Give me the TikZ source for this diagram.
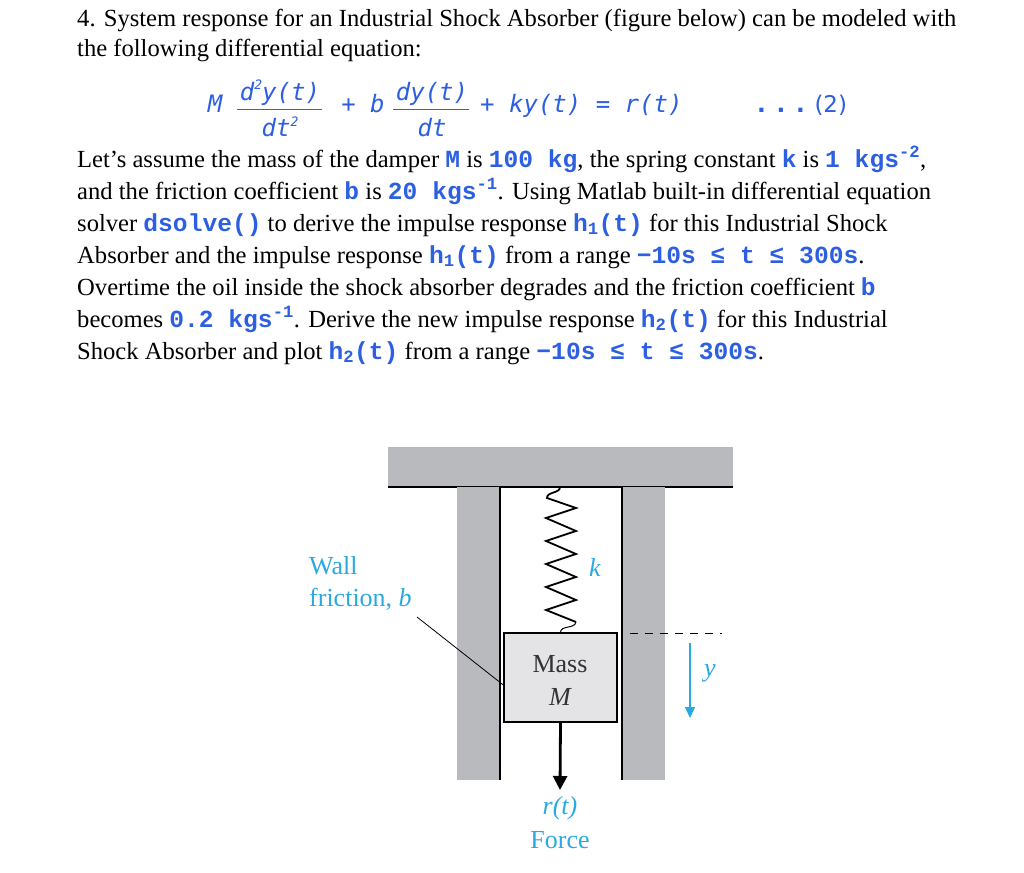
\documentclass[tikz,border=0pt]{standalone}
\usepackage{fontspec}
\usetikzlibrary{arrows.meta}
\setmainfont{Liberation Serif}
\newfontfamily\cd{Liberation Mono}[UprightFont=* Bold]
\newfontfamily\eqf{DejaVu Sans Mono}[UprightFont=* Oblique]
\newfontfamily\eqn{DejaVu Sans}
\definecolor{cblue}{RGB}{45,95,225}
\definecolor{fblue}{RGB}{40,170,225}
\definecolor{wallg}{RGB}{185,186,190}
\definecolor{massg}{RGB}{228,228,230}
\newcommand{\cb}[1]{{\cd\color{cblue}#1}}
\begin{document}
\begin{tikzpicture}[x=1pt,y=-1pt,
  txt/.style={anchor=base west,inner sep=0pt,font=\fontsize{24.6}{28}\selectfont},
  eq/.style={inner sep=0pt,text=cblue,font=\fontsize{24}{28}\selectfont\eqf},
  lab/.style={inner sep=0pt,text=fblue,font=\fontsize{26}{30}\selectfont},
  ilab/.style={lab,font=\fontsize{26}{30}\selectfont\itshape}]
\useasboundingbox (0,0) rectangle (1024,872);
\node[txt] (l1) at (77,27) {4. System response for an Industrial Shock Absorber (figure below) can be modeled with};
\node[txt] (l2) at (77,57) {the following differential equation:};
% equation
\node[eq,anchor=base] (eM) at (215,113) {M};
\node[eq,anchor=base] (n1) at (280,100) {d\raisebox{10pt}{\fontsize{13}{13}\selectfont 2}y(t)};
\node[eq,anchor=base] (d1) at (280,136) {dt\raisebox{10pt}{\fontsize{13}{13}\selectfont 2}};
\draw[cblue,line width=1pt] (237,110) coordinate (f1a) -- (322,110) coordinate (f1b);
\node[eq,anchor=base] (eb) at (363,113) {+ b};
\node[eq,anchor=base] (n2) at (432,100) {dy(t)};
\node[eq,anchor=base] (d2) at (432,136) {dt};
\draw[cblue,line width=1pt] (393,110) coordinate (f2a) -- (469,110) coordinate (f2b);
\node[eq,anchor=base west] (erest) at (480,113) {+ ky(t) = r(t)};
\node[inner sep=0pt,anchor=base west,text=cblue,font=\fontsize{23}{26}\selectfont\eqn] (enum) at (757,113) {\textbf{. . .} (2)};
% paragraph
\node[txt] (l3) at (77,167) {Let’s assume the mass of the damper \cb{M} is \cb{100 kg}, the spring constant \cb{k} is \cb{1 kgs\textsuperscript{-2}},};
\node[txt] (l4) at (77,199) {and the friction coefficient \cb{b} is \cb{20 kgs\textsuperscript{-1}}. Using Matlab built-in differential equation};
\node[txt] (l5) at (77,231) {solver \cb{dsolve()} to derive the impulse response \cb{h\textsubscript{1}(t)} for this Industrial Shock};
\node[txt] (l6) at (77,263) {Absorber and the impulse response \cb{h\textsubscript{1}(t)} from a range \cb{−10s ≤ t ≤ 300s}.};
\node[txt] (l7) at (77,295) {Overtime the oil inside the shock absorber degrades and the friction coefficient \cb{b}};
\node[txt] (l8) at (77,327) {becomes \cb{0.2 kgs\textsuperscript{-1}}. Derive the new impulse response \cb{h\textsubscript{2}(t)} for this Industrial};
\node[txt] (l9) at (77,359) {Shock Absorber and plot \cb{h\textsubscript{2}(t)} from a range \cb{−10s ≤ t ≤ 300s}.};
% figure
\fill[wallg] (388,447) rectangle (733,487);
\draw[line width=1.3pt] (388,487) -- (733,487);
\fill[wallg] (457,487) rectangle (500,780);
\fill[wallg] (622,487) rectangle (665,780);
\draw[line width=1.3pt] (500,487) -- (500,780);
\draw[line width=1.3pt] (622,487) -- (622,780);
\node[draw,line width=1.3pt,fill=massg,minimum width=113pt,minimum height=89pt,inner sep=0pt] (mass) at (560.5,677.5) {};
\node[inner sep=0pt,font=\fontsize{26}{30}\selectfont,text=black!80] (mt) at (560,664) {Mass};
\node[inner sep=0pt,font=\fontsize{26}{30}\selectfont\itshape,text=black!80] (mm) at (560,697) {M};
% spring
\draw[line width=1.8pt,line join=miter] (560,487) to[out=-90,in=90] (547,498)
  -- (576,508) -- (546,518) -- (576,531) -- (546,541) -- (576,554) -- (546,564)
  -- (576,577) -- (546,587) -- (576,600) -- (546,610) -- (576,622);
\draw[line width=1pt] (576,622) to[out=-100,in=90] (mass.north);
\node[ilab] (k) at (595,567) {k};
% force
\coordinate (fend) at (560,790);
\draw[line width=2.8pt,-{Triangle[length=14pt,width=14pt]}] (mass.south) -- (fend);
\node[ilab] (rt) at (560,808) {r(t)};
\node[lab] (force) at (560,840) {Force};
% wall label
\node[lab,anchor=west] (wall) at (309,566) {Wall};
\node[lab,anchor=west] (fric) at (309,599) {friction, \textit{b}};
\coordinate (lead) at (417,617);
\draw[line width=0.8pt] (lead) -- (mass.west |- 0,685);
% y
\coordinate (da) at (630,633); \coordinate (db) at (722,633);
\draw[dashed,dash pattern=on 8pt off 7pt,line width=0.8pt] (da) -- (db);
\coordinate (ya) at (690,643); \coordinate (yb) at (690,718);
\draw[fblue,line width=1.4pt,-{Triangle[length=11pt,width=10pt]}] (ya) -- (yb);
\node[ilab] (y) at (710,673) {y};
\end{tikzpicture}
\end{document}
